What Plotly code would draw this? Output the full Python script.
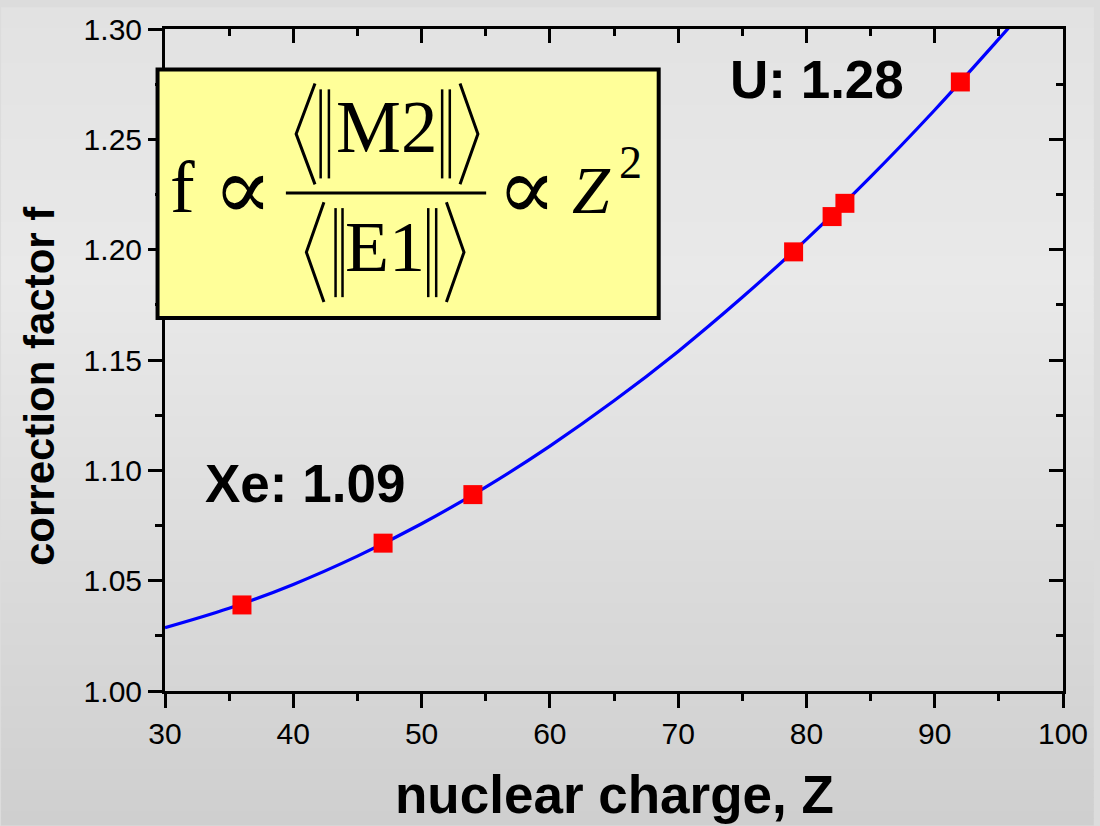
import plotly.graph_objects as go

# Measured correction factors versus nuclear charge
z_points = [36, 47, 54, 79, 82, 83, 92]
f_points = [1.039, 1.067, 1.089, 1.199, 1.215, 1.221, 1.276]

# Fitted curve, sampled along Z
z_curve = [30, 35, 40, 45, 50, 55, 60, 65, 70, 75, 80, 85, 90, 95, 96]
f_curve = [1.0287, 1.0375, 1.0483, 1.0611, 1.0758, 1.0924, 1.1110, 1.1315,
           1.1539, 1.1784, 1.2047, 1.2330, 1.2633, 1.2955, 1.3021]

x_ticks = [30, 40, 50, 60, 70, 80, 90, 100]
y_ticks = [1.00, 1.05, 1.10, 1.15, 1.20, 1.25, 1.30]

labels = [("Xe: 1.09", 54), ("U: 1.28", 92)]

W, H = 1100, 826
L, R, T, B = 165, 31, 22, 135
PW, PH = W - L - R, H - T - B


def px(x):
    return (x - L) / PW


def py(y):
    return (H - B - y) / PH


SANS = "Arial, Liberation Sans, sans-serif"
SERIF = "Times New Roman, Liberation Serif, serif"

fig = go.Figure()

fig.add_trace(go.Scatter(
    x=z_curve, y=f_curve, mode="lines",
    line=dict(color="#0000ff", width=3.2, shape="spline", smoothing=1.0),
    hoverinfo="skip", showlegend=False))
fig.add_trace(go.Scatter(
    x=z_points, y=f_points, mode="markers",
    marker=dict(symbol="square", size=19, color="#ff0000", line=dict(width=0)),
    showlegend=False))
# mirrored frame axes (top / right)
fig.add_trace(go.Scatter(x=[], y=[], xaxis="x2", yaxis="y2", showlegend=False))

# background gradient, built from horizontal bands
stops = [(0.0, (226, 226, 226)), (0.33, (233, 233, 233)), (1.0, (207, 207, 207))]


def grad(t):
    for (t0, c0), (t1, c1) in zip(stops[:-1], stops[1:]):
        if t <= t1:
            u = (t - t0) / (t1 - t0)
            return "rgb(%d,%d,%d)" % tuple(round(a + (b - a) * u) for a, b in zip(c0, c1))
    return "rgb(%d,%d,%d)" % stops[-1][1]


shapes = []
band = 7
for y0 in range(0, H, band):
    shapes.append(dict(type="rect", xref="paper", yref="paper", layer="below",
                       x0=px(0), x1=px(W), y0=py(y0 + band + 1), y1=py(y0),
                       fillcolor=grad((y0 + band / 2) / H), line=dict(width=0)))

# formula box
shapes.append(dict(type="rect", xref="paper", yref="paper", layer="above",
                   x0=px(157.5), x1=px(662), y0=py(314), y1=py(63),
                   fillcolor="#ffff99", line=dict(color="black", width=4)))


def seg(x0, y0, x1, y1, w=3):
    shapes.append(dict(type="line", xref="paper", yref="paper", layer="above",
                       x0=px(x0), y0=py(y0), x1=px(x1), y1=py(y1),
                       line=dict(color="black", width=w)))


def bracket(xe, xa, yt, yb, w=3):
    ym = (yt + yb) / 2
    path = "M %f,%f L %f,%f L %f,%f" % (px(xe), py(yt), px(xa), py(ym), px(xe), py(yb))
    shapes.append(dict(type="path", xref="paper", yref="paper", layer="above",
                       path=path, line=dict(color="black", width=w)))


# fraction bar
seg(286.7, 187.7, 488.3, 187.7, 3)
# numerator delimiters
bracket(316, 297, 77, 179)
bracket(462, 480, 77, 179)
for xb in (321.7, 330, 444, 451.7):
    seg(xb, 83, xb, 173, 2.5)
# denominator delimiters
bracket(325, 307.3, 197, 298)
bracket(448.3, 466, 197, 298)
for xb in (336.7, 343.7, 430, 438):
    seg(xb, 203, xb, 293, 2.5)

ann = []


def text(s, x, y, size, family=SERIF, weight="normal", xanchor="center"):
    ann.append(dict(text=s, x=px(x), y=py(y), xref="paper", yref="paper",
                    xanchor=xanchor, yanchor="middle", showarrow=False,
                    font=dict(family=family, size=size, color="black", weight=weight)))


PROP = "DejaVu Serif, serif"
text("f", 182.5, 181.5, 74)
text("\u221d", 244, 183, 88, PROP)
text("M2", 387.5, 122, 73)
text("E1", 386.7, 242.5, 72)
text("\u221d", 529, 183, 88, PROP)
text("<i>Z</i>", 594, 185, 68)
text("2", 634, 157, 46)

# value labels
text(labels[0][0], 306, 481, 53, SANS, "bold")
text(labels[1][0], 821.5, 73.5, 53, SANS, "bold")

# axis titles
text("nuclear charge, Z", 617.5, 796, 53, SANS, "bold")
ann.append(dict(text="correction factor f", x=px(38.5), y=py(382.5), xref="paper", yref="paper",
                xanchor="center", yanchor="middle", showarrow=False, textangle=-90,
                font=dict(family=SANS, size=42, color="black", weight="bold")))

axis_common = dict(showline=True, linecolor="black", linewidth=3, showgrid=False,
                   zeroline=False, ticklen=14, tickwidth=2.5, tickcolor="black",
                   tickfont=dict(family=SANS, size=30, color="black"))

fig.update_layout(
    width=W, height=H,
    margin=dict(l=L, r=R, t=T, b=B),
    paper_bgcolor="#dcdcdc", plot_bgcolor="rgba(0,0,0,0)",
    showlegend=False,
    shapes=shapes, annotations=ann,
    xaxis=dict(range=[30, 100], tickvals=x_ticks, ticks="outside",
               minor=dict(dtick=5, ticks="outside", ticklen=7, tickwidth=2.5, tickcolor="black"),
               **axis_common),
    yaxis=dict(range=[1.0, 1.30], tickvals=y_ticks, tickformat=".2f", ticks="outside",
               minor=dict(dtick=0.025, ticks="outside", ticklen=7, tickwidth=2.5, tickcolor="black"),
               **axis_common),
    xaxis2=dict(range=[30, 100], overlaying="x", side="top", anchor="y", tickvals=x_ticks,
                ticks="inside", showticklabels=False,
                minor=dict(dtick=5, ticks="inside", ticklen=7, tickwidth=2.5, tickcolor="black"),
                **axis_common),
    yaxis2=dict(range=[1.0, 1.30], overlaying="y", side="right", anchor="x", tickvals=y_ticks,
                ticks="inside", showticklabels=False,
                minor=dict(dtick=0.025, ticks="inside", ticklen=7, tickwidth=2.5, tickcolor="black"),
                **axis_common),
)

fig.write_html("out.html")
